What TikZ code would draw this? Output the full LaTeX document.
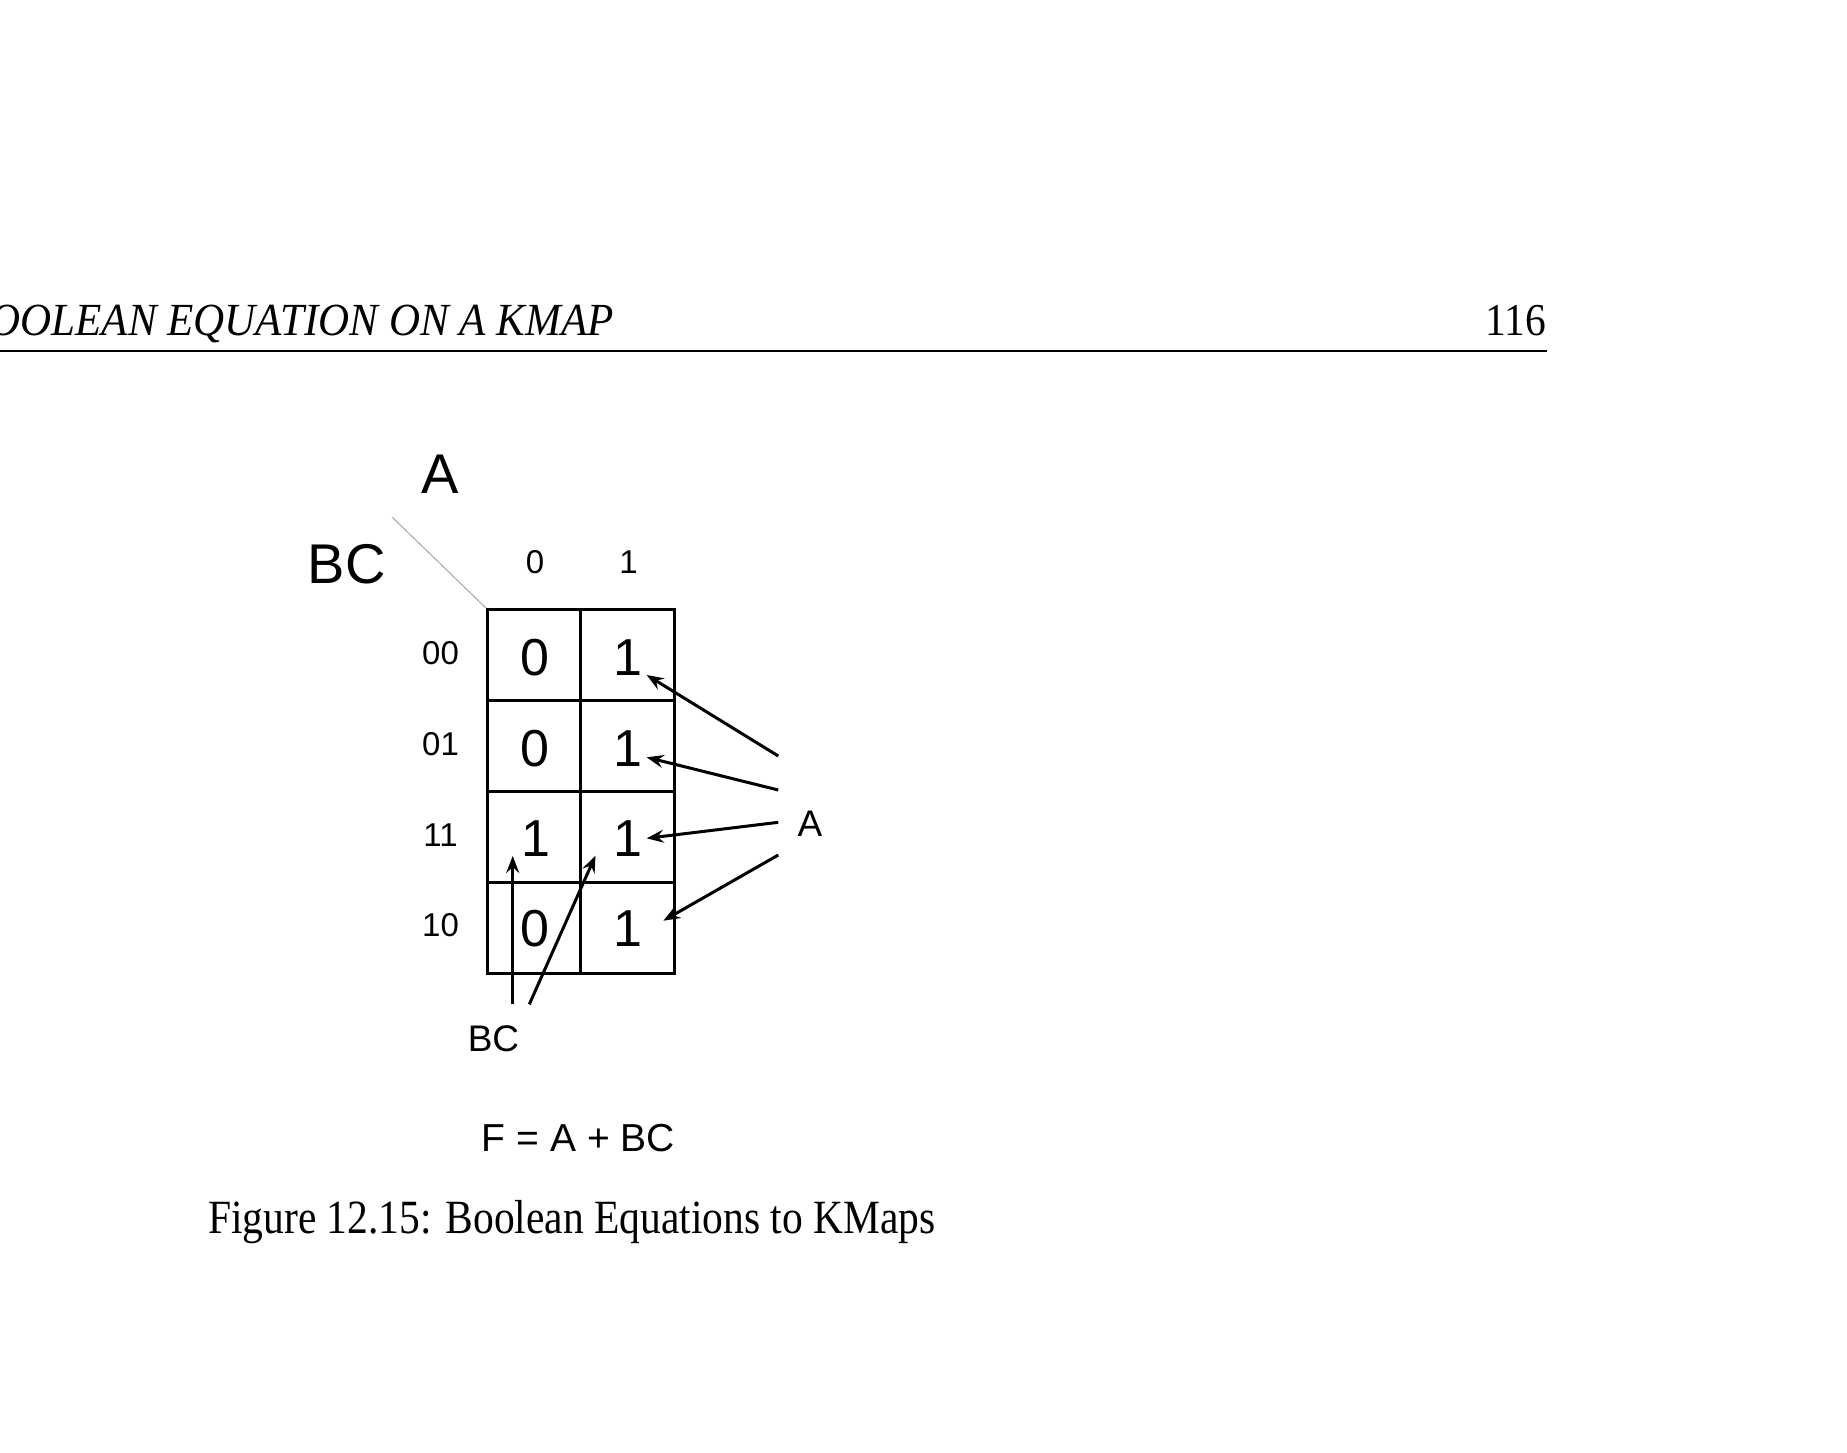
\documentclass[tikz,border=0pt]{standalone}
\usepackage{fontspec}
\setmainfont{Liberation Serif}
\newfontfamily\arialf{Liberation Sans}
\usetikzlibrary{arrows.meta}
\tikzset{
  lbl/.style={inner sep=0pt, anchor=base, font=\arialf},
  gridline/.style={line width=3pt, line cap=rect},
  ptr/.style={line width=3pt, -{Stealth[length=17pt,width=13pt,inset=6pt]}},
  serifbig/.style={inner sep=0pt}
}
\newcommand{\fsz}[1]{\fontsize{#1}{#1}\selectfont}
\begin{document}
\begin{tikzpicture}[x=1pt,y=-1pt]
\useasboundingbox (0,0) rectangle (1847,1452);
% running header
\node[serifbig, anchor=base east] (hdr) at (614,335) {\scalebox{1}[1.07]{\fsz{43}\itshape OOLEAN EQUATION ON A KMAP}};
\node[serifbig, anchor=base east] (pg) at (1546,335) {\scalebox{1}[1.1]{\fsz{41.5}116}};
\coordinate (ruleL) at (0,350.5);
\coordinate (ruleR) at (1547,350.5);
\draw[line width=2pt] (ruleL) -- (ruleR);
% kmap labels
\node[lbl, font=\arialf\fsz{56}] (varA) at (440.6,493) {A};
\node[lbl, font=\arialf\fsz{56}] (varBC) at (346.6,583) {BC};
\coordinate (diagS) at (392,517);
\coordinate (gTL) at (487,609);
\draw[gray!70, line width=1pt] (diagS) -- (gTL);
\node[lbl, font=\arialf\fsz{33}] (col0) at (535,573.3) {0};
\node[lbl, font=\arialf\fsz{33}] (col1) at (628.5,573.3) {1};
\node[lbl, font=\arialf\fsz{33}] (row1) at (440.5,664) {00};
\node[lbl, font=\arialf\fsz{33}] (row2) at (440.5,755) {01};
\node[lbl, font=\arialf\fsz{33}] (row3) at (440.5,846) {11};
\node[lbl, font=\arialf\fsz{33}] (row4) at (440.5,936) {10};
% grid
\draw[gridline] (487,609) rectangle (674,973);
\draw[gridline] (580.5,609) -- (580.5,973);
\draw[gridline] (487,700) -- (674,700);
\draw[gridline] (487,791.5) -- (674,791.5);
\draw[gridline] (487,882) -- (674,882);
% cells
\node[lbl, font=\arialf\fsz{52}] (c00) at (534.5,675) {0};
\node[lbl, font=\arialf\fsz{52}] (c01) at (627.5,675) {1};
\node[lbl, font=\arialf\fsz{52}] (c10) at (534.5,766) {0};
\node[lbl, font=\arialf\fsz{52}] (c11) at (627.5,766) {1};
\node[lbl, font=\arialf\fsz{52}] (c20) at (536,856) {1};
\node[lbl, font=\arialf\fsz{52}] (c21) at (627.5,856) {1};
\node[lbl, font=\arialf\fsz{52}] (c30) at (534.5,946) {0};
\node[lbl, font=\arialf\fsz{52}] (c31) at (627.5,946) {1};
% A pointers
\node[lbl, font=\arialf\fsz{37}] (labA) at (810,836.7) {A};
\coordinate (a1s) at (778.3,756);
\coordinate (a2s) at (778.3,790);
\coordinate (a3s) at (778.3,822.3);
\coordinate (a4s) at (778.3,855);
\coordinate (a1t) at (646.7,675);
\coordinate (a2t) at (646.7,757.3);
\coordinate (a3t) at (646.7,838.3);
\coordinate (a4t) at (663.3,920.7);
\draw[ptr] (a1s) -- (a1t);
\draw[ptr] (a2s) -- (a2t);
\draw[ptr] (a3s) -- (a3t);
\draw[ptr] (a4s) -- (a4t);
% BC pointers
\node[lbl, font=\arialf\fsz{37}] (labBC) at (493.5,1051.7) {BC};
\coordinate (b1s) at (512.7,1004.3);
\coordinate (b2s) at (529.3,1004.3);
\coordinate (b1t) at (512.7,856);
\coordinate (b2t) at (595.5,855.5);
\draw[ptr] (b1s) -- (b1t);
\draw[ptr] (b2s) -- (b2t);
% equation
\node[lbl, font=\arialf\fsz{39}] (eqn) at (578.4,1151.7) {F = A + BC};
% caption
\node[serifbig, anchor=base west] (cap) at (208,1233) {\scalebox{1}[1.15]{\fsz{41.5}Figure 12.15: Boolean Equations to KMaps}};
\end{tikzpicture}
\end{document}
